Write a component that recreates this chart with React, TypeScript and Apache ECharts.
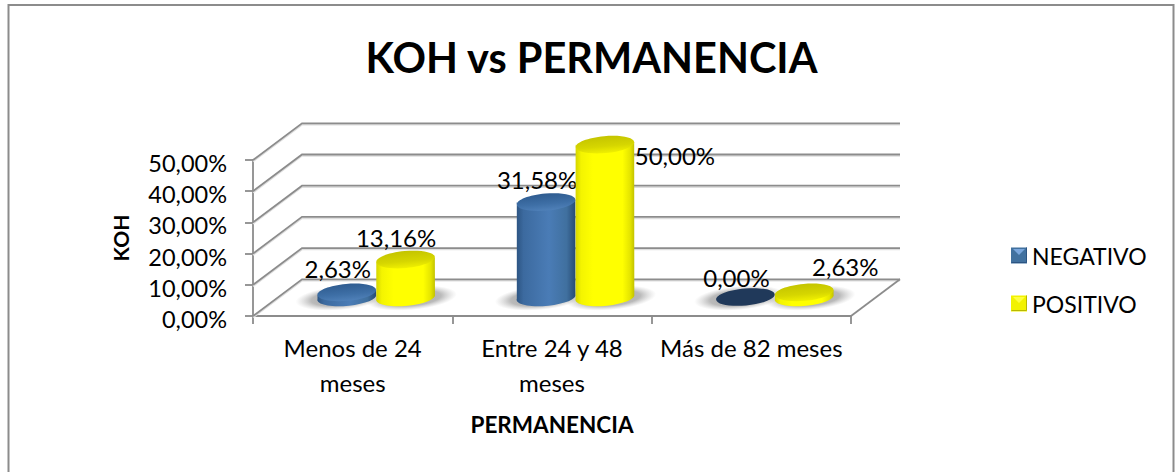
import React, { useEffect, useRef } from "react";
import * as echarts from "echarts";

const categories = ["Menos de 24\nmeses", "Entre 24 y 48\nmeses", "Más de 82 meses"];
const negativo = [2.63, 31.58, 0];
const positivo = [13.16, 50, 2.63];
const yTicks = [0, 10, 20, 30, 40, 50];
const seriesNames = ["NEGATIVO", "POSITIVO"];

// label nudges from each cylinder's top centre, as placed in the reference
const negativoShift = [[-9, -23.5], [-9, -22.5], [-9, -20]];
const positivoShift = [[-9.5, -22.5], [70, 10.5], [41, -25.5]];

const FONT = "Lato, Carlito, sans-serif";
const DEPTH_X = 49;
const DEPTH_Y = -36.7;
const BAR_SHIFT_X = 23.5;
const BASE_SHIFT_Y = -20;
const TOP_SHIFT_Y = -15.4;
const TILT = 0.09;
const RY = 8.5;

const fmt = (v: number) => v.toFixed(2).replace(".", ",") + "%";
const grad = (stops: [number, string][]) =>
  new echarts.graphic.LinearGradient(0, 0, 1, 0, stops.map(([offset, color]) => ({ offset, color })));
const vgrad = (stops: [number, string][]) =>
  new echarts.graphic.LinearGradient(0, 0, 0, 1, stops.map(([offset, color]) => ({ offset, color })));

const skin = [
  {
    body: () => grad([[0, "#2c5482"], [0.12, "#3c6a9f"], [0.55, "#4a7cb6"], [0.85, "#40709f"], [1, "#274b74"]]),
    top: () => vgrad([[0, "#2f5c90"], [0.6, "#3e6fa6"], [1, "#4f80b8"]]),
    zero: () => "#20395a",
    legend: "#41719f",
  },
  {
    body: () => grad([[0, "#d4d400"], [0.1, "#f4f400"], [0.3, "#ffff00"], [0.8, "#ffff00"], [0.93, "#e4e400"], [1, "#c2c200"]]),
    top: () => vgrad([[0, "#c4c400"], [0.6, "#d6d600"], [1, "#f0f000"]]),
    zero: () => "#d2d200",
    legend: "#f2f200",
  },
];

function cylinderItem(seriesIndex: number, shifts: number[][]) {
  return (params: any, api: any) => {
    const cat = api.value(0);
    const val = api.value(1);
    const band = api.size([1, 0])[0];
    const w = band * 0.295;
    const rx = w / 2;
    const c = api.coord([cat, val]);
    const base = api.coord([cat, 0]);
    const cx = c[0] + BAR_SHIFT_X + (seriesIndex === 0 ? -rx : rx);
    const by = base[1] + BASE_SHIFT_Y;
    const ty = Math.min(by + (val === 0 ? 1 : 0), c[1] + TOP_SHIFT_Y);
    const ax = rx * Math.cos(TILT);
    const ay = rx * Math.sin(TILT);
    const s = skin[seriesIndex];
    const deg = (-TILT * 180) / Math.PI;
    const d =
      `M${cx - ax} ${ty + ay} L${cx - ax} ${by + ay} ` +
      `A${rx} ${RY} ${deg} 0 0 ${cx + ax} ${by - ay} ` +
      `L${cx + ax} ${ty - ay} ` +
      `A${rx} ${RY} ${deg} 0 1 ${cx - ax} ${ty + ay} Z`;
    const shift = shifts[params.dataIndex];
    const children: any[] = [];
    if (val > 0) {
      children.push({ type: "path", shape: { pathData: d }, style: { fill: s.body() } });
    }
    children.push({
      type: "ellipse",
      x: cx,
      y: ty,
      rotation: TILT,
      shape: { cx: 0, cy: 0, rx, ry: RY },
      style: { fill: val === 0 ? s.zero() : s.top() },
    });
    children.push({
      type: "text",
      x: cx + shift[0],
      y: ty + shift[1],
      style: { text: fmt(val), fill: "#000", font: `24px ${FONT}`, align: "center", verticalAlign: "middle" },
    });
    return { type: "group", children };
  };
}

const wallItem = (params: any, api: any) => {
  const p = api.coord([0, api.value(1)]);
  const x0 = params.coordSys.x;
  const x1 = x0 + params.coordSys.width;
  const y = p[1];
  const line = (pts: number[][], stroke: string, lineWidth: number) => ({
    type: "polyline",
    shape: { points: pts },
    style: { stroke, lineWidth, fill: "none" },
  });
  const pts = [[x0, y], [x0 + DEPTH_X, y + DEPTH_Y], [x1 + DEPTH_X, y + DEPTH_Y]];
  const children = [
    line(pts.map(([a, b]) => [a, b + 1.5]), "#dedede", 1.5),
    line(pts, "#8c8c8c", 1.8),
  ];
  if (params.dataIndex === 0) {
    children.push(line([[x1, y], [x1 + DEPTH_X, y + DEPTH_Y]], "#8c8c8c", 1.8));
  }
  return { type: "group", children };
};

const shadowItem = (seriesIndex: number) => (params: any, api: any) => {
  const band = api.size([1, 0])[0];
  const w = band * 0.295;
  const c = api.coord([api.value(0), 0]);
  const cx = c[0] + BAR_SHIFT_X + (seriesIndex === 0 ? -w / 2 - 6 : w / 2 + 6);
  return {
    type: "ellipse",
    x: cx,
    y: c[1] + BASE_SHIFT_Y + 2,
    rotation: TILT,
    shape: { cx: 0, cy: 0, rx: w / 2 + 16, ry: 12 },
    style: {
      fill: new echarts.graphic.RadialGradient(0.5, 0.5, 0.5, [
        { offset: 0, color: "rgba(120,120,120,0.7)" },
        { offset: 0.65, color: "rgba(130,130,130,0.55)" },
        { offset: 1, color: "rgba(170,170,170,0)" },
      ]),
    },
  };
};

const toPairs = (vals: number[]) => vals.map((v, i) => [i, v]);

function bevel(x: number, y: number, light: string, dark: string) {
  return [
    { type: "polygon", z: 50, shape: { points: [[x + 2, y + 2], [x + 14, y + 2], [x + 8, y + 8]] }, style: { fill: light } },
    { type: "polyline", z: 50, shape: { points: [[x + 0.5, y + 15.5], [x + 15.5, y + 15.5], [x + 15.5, y + 0.5]] }, style: { stroke: dark, lineWidth: 1, fill: "none" } },
  ];
}

export default function App() {
  const ref = useRef<HTMLDivElement>(null);
  useEffect(() => {
    document.body.style.margin = "0";
    document.body.style.overflow = "hidden";
    const chart = echarts.init(ref.current!, undefined, { renderer: "svg" });
    chart.setOption({
      animation: false,
      title: {
        text: "KOH vs PERMANENCIA",
        left: 586.5,
        top: 31,
        textAlign: "center",
        textStyle: { fontFamily: FONT, fontSize: 41.5, fontWeight: "bold", color: "#000" },
      },
      grid: { left: 253, right: 325, top: 160, bottom: 156 },
      legend: {
        orient: "vertical",
        left: 1011,
        top: 244,
        padding: 0,
        itemWidth: 16,
        itemHeight: 16,
        itemGap: 25,
        selectedMode: false,
        data: seriesNames.map((name, i) => ({ name, icon: "rect", itemStyle: { color: skin[i].legend } })),
        textStyle: { fontFamily: FONT, fontSize: 23, color: "#000" },
      },
      xAxis: {
        type: "category",
        data: categories,
        name: "PERMANENCIA",
        nameLocation: "middle",
        nameGap: 97,
        nameTextStyle: { fontFamily: FONT, fontSize: 22.5, fontWeight: "bold", color: "#000" },
        axisLine: { lineStyle: { color: "#8c8c8c", width: 1.8 } },
        axisTick: { show: true, alignWithLabel: false, length: 8, lineStyle: { color: "#8c8c8c", width: 1.8 } },
        axisLabel: { fontFamily: FONT, fontSize: 24, color: "#000", lineHeight: 35, margin: 14, interval: 0 },
        splitLine: { show: false },
      },
      yAxis: {
        type: "value",
        min: 0,
        max: 50,
        interval: 10,
        name: "KOH",
        nameLocation: "middle",
        nameGap: 122,
        nameTextStyle: { fontFamily: FONT, fontSize: 21, fontWeight: "bold", color: "#000" },
        axisLine: { show: true, lineStyle: { color: "#8c8c8c", width: 1.8 } },
        axisTick: { show: true, length: 8, lineStyle: { color: "#8c8c8c", width: 1.8 } },
        axisLabel: {
          fontFamily: FONT,
          fontSize: 23.5,
          color: "#000",
          margin: 26,
          formatter: (v: number) => `{t|${fmt(v)}}`,
          rich: { t: { fontFamily: FONT, fontSize: 23.5, color: "#000", padding: [6, 0, 0, 0] } },
        },
        splitLine: { show: false },
      },
      graphic: [
        { type: "rect", shape: { x: 8.5, y: 5, width: 1165, height: 480 }, style: { fill: "none", stroke: "#8c8c8c", lineWidth: 2 } },
        ...bevel(1011, 247, "#79a6dc", "#2c5482"),
        ...bevel(1011, 295, "#ffff40", "#b8b800"),
      ],
      series: [
        { type: "custom", name: "walls", coordinateSystem: "cartesian2d", silent: true, z: 1, data: yTicks.map((v) => [0, v]), renderItem: wallItem },
        { type: "custom", name: "sombraN", coordinateSystem: "cartesian2d", silent: true, z: 2, data: toPairs(negativo), renderItem: shadowItem(0) },
        { type: "custom", name: "sombraP", coordinateSystem: "cartesian2d", silent: true, z: 2, data: toPairs(positivo), renderItem: shadowItem(1) },
        { type: "custom", name: seriesNames[0], coordinateSystem: "cartesian2d", z: 3, itemStyle: { color: skin[0].legend }, data: toPairs(negativo), renderItem: cylinderItem(0, negativoShift) },
        { type: "custom", name: seriesNames[1], coordinateSystem: "cartesian2d", z: 4, itemStyle: { color: skin[1].legend }, data: toPairs(positivo), renderItem: cylinderItem(1, positivoShift) },
      ],
    });
    return () => chart.dispose();
  }, []);
  return <div ref={ref} style={{ width: 1176, height: 472, position: "absolute", left: 0, top: 0, background: "#fff" }} />;
}
